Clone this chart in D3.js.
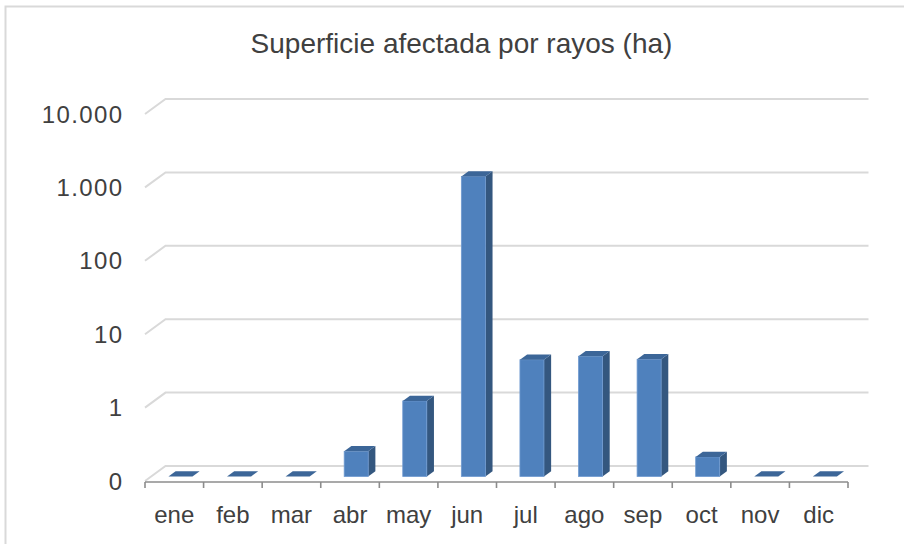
<!DOCTYPE html>
<html>
<head>
<meta charset="utf-8">
<script src="https://cdn.jsdelivr.net/npm/d3@7/dist/d3.min.js"></script>
<style>
  html, body { margin: 0; padding: 0; background: #fff; }
  svg { display: block; }
</style>
</head>
<body>
<svg id="chart" width="904" height="544"></svg>
<script>
const title = "Superficie afectada por rayos (ha)";
const months = ["ene","feb","mar","abr","may","jun","jul","ago","sep","oct","nov","dic"];
const values = [0, 0, 0, 0.22, 1.07, 1220, 3.9, 4.35, 3.95, 0.185, 0, 0];
const tickValues = [0.1, 1, 10, 100, 1000, 10000];
const tickLabels = ["0", "1", "10", "100", "1.000", "10.000"];

const svg = d3.select("#chart");
const font = "'Liberation Sans', Arial, sans-serif";
const textColor = "#404040";

// Chart border
svg.append("rect").attr("x", 5.5).attr("y", 6.5).attr("width", 920).attr("height", 560)
  .attr("fill", "#fff").attr("stroke", "#D9D9D9").attr("stroke-width", 2);

// Title
svg.append("text").attr("x", 461.5).attr("y", 53).attr("text-anchor", "middle")
  .attr("font-family", font).attr("font-size", 28).attr("fill", textColor).text(title);

// Scales (front plane)
const x0 = 145, x1 = 848;
const y = d3.scaleLog().domain([0.1, 10000]).range([481, 114]);
const xc = d3.scaleBand().domain(months).range([x0, x1]).padding(0);
const xb = d3.scaleBand().domain(months).range([x0, x1]).paddingInner(0.59).paddingOuter(0.295);

// Depth vector
const DX = 20.5, DY = -15;
const f0 = 0.3, f1 = 0.65;

// Gridlines (left wall diagonal + back horizontal)
const grid = svg.append("g");
tickValues.forEach(t => {
  const yy = y(t);
  grid.append("path")
    .attr("d", `M${x0},${yy} L${x0 + DX},${yy + DY} L${x1 + DX},${yy + DY}`)
    .attr("fill", "none").attr("stroke", "#D9D9D9").attr("stroke-width", 2);
});

// Bars
const bars = svg.append("g");
const bw = xb.bandwidth();
const base = y(0.1);
months.forEach((m, i) => {
  const v = Math.max(values[i], 0.1);
  const bx = xb(m) + DX * f0;
  const yBot = base + DY * f0;
  const yTop = y(v) + DY * f0;
  const ddx = DX * (f1 - f0), ddy = DY * (f1 - f0);
  if (yBot - yTop > 0.5) {
    bars.append("path")
      .attr("d", `M${bx + bw},${yTop} L${bx + bw + ddx},${yTop + ddy} L${bx + bw + ddx},${yBot + ddy} L${bx + bw},${yBot} Z`)
      .attr("fill", "#34577F");
    bars.append("rect").attr("x", bx).attr("y", yTop).attr("width", bw).attr("height", yBot - yTop)
      .attr("fill", "#4F81BD").attr("stroke", "#6F9AD0").attr("stroke-width", 0.8);
  }
  bars.append("path")
    .attr("d", `M${bx},${yTop} L${bx + bw},${yTop} L${bx + bw + ddx},${yTop + ddy} L${bx + ddx},${yTop + ddy} Z`)
    .attr("fill", "#3C6698");
});

// X axis line and ticks
const ax = svg.append("g").attr("stroke", "#8C8C8C").attr("stroke-width", 1.6);
ax.append("line").attr("x1", x0).attr("x2", x1).attr("y1", 482).attr("y2", 482);
months.forEach((m) => {
  ax.append("line").attr("x1", xc(m)).attr("x2", xc(m)).attr("y1", 482).attr("y2", 488);
});
ax.append("line").attr("x1", x1).attr("x2", x1).attr("y1", 482).attr("y2", 488);

// Category labels
svg.append("g").selectAll("text").data(months).join("text")
  .attr("x", d => xc(d) + xc.bandwidth() / 2).attr("y", 523)
  .attr("text-anchor", "middle").attr("font-family", font).attr("font-size", 24)
  .attr("fill", textColor).text(d => d);

// Y labels
svg.append("g").selectAll("text").data(tickValues).join("text")
  .attr("x", 123.5).attr("y", d => y(d) + 8.5)
  .attr("text-anchor", "end").attr("font-family", font).attr("font-size", 24)
  .attr("letter-spacing", 1.4)
  .attr("fill", textColor).text((d, i) => tickLabels[i]);
</script>
</body>
</html>
